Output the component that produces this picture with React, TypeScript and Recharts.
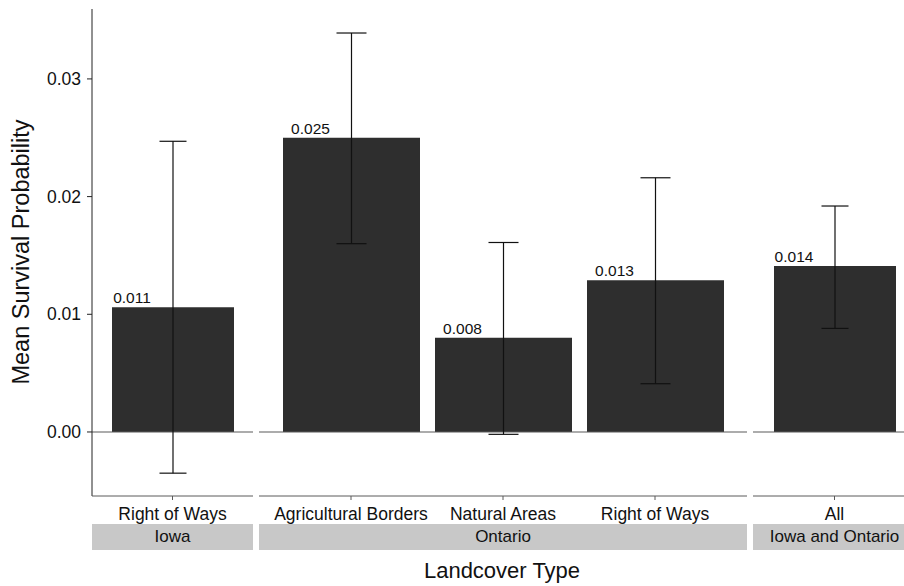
import { Bar, BarChart, ErrorBar, LabelList, ReferenceLine, XAxis, YAxis } from 'recharts';

// facet strips (bottom) and categories per facet
const facetNames = ['Iowa', 'Ontario', 'Iowa and Ontario'];

const iowaLabels = ['Right of Ways'];
const iowaMeans = [0.0106];
const iowaLower = [-0.0035];
const iowaUpper = [0.0247];

const ontarioLabels = ['Agricultural Borders', 'Natural Areas', 'Right of Ways'];
const ontarioMeans = [0.025, 0.008, 0.0129];
const ontarioLower = [0.016, -0.0002, 0.0041];
const ontarioUpper = [0.0339, 0.0161, 0.0216];

const allLabels = ['All'];
const allMeans = [0.0141];
const allLower = [0.0088];
const allUpper = [0.0192];

const yTicks = [0, 0.01, 0.02, 0.03];
const yDomain: [number, number] = [-0.00544, 0.03594];

const FONT = '"Liberation Sans", Arial, Helvetica, sans-serif';
const BAR_FILL = '#2e2e2e';
const LINE_GREY = '#5a5a5a';
const TEXT = '#111';

function buildRows(labels: string[], means: number[], lower: number[], upper: number[]) {
  return labels.map((label, i) => ({
    label,
    mean: means[i],
    err: [means[i] - lower[i], upper[i] - means[i]],
  }));
}

const panels = [
  { rows: buildRows(iowaLabels, iowaMeans, iowaLower, iowaUpper), left: 0, plotLeft: 92, width: 161, showY: true, pad: 0, barSize: 122, cap: 13.5 },
  { rows: buildRows(ontarioLabels, ontarioMeans, ontarioLower, ontarioUpper), left: 259, plotLeft: 259, width: 488, showY: false, pad: 16, barSize: 137, cap: 15 },
  { rows: buildRows(allLabels, allMeans, allLower, allUpper), left: 753, plotLeft: 753, width: 163, showY: false, pad: 0, barSize: 122, cap: 13.5 },
];

function MeanLabel(props: any) {
  const { x, y, width, value } = props;
  return (
    <text x={x + width / 2 - 41} y={y - 4} textAnchor="middle" fontSize={15.5} fill={TEXT} fontFamily={FONT}>
      {Number(value).toFixed(3)}
    </text>
  );
}

function Panel({ p }: { p: (typeof panels)[number] }) {
  const chartWidth = p.showY ? p.width + p.plotLeft : p.width;
  return (
    <div style={{ position: 'absolute', left: p.left, top: 0 }}>
      <BarChart width={chartWidth} height={586} data={p.rows} margin={{ top: 9, right: 0, bottom: 0, left: 0 }}>
        <YAxis
          hide={!p.showY}
          width={92}
          domain={yDomain}
          ticks={yTicks}
          allowDataOverflow
          tickFormatter={(v: number) => v.toFixed(2)}
          tick={{ fill: TEXT, fontSize: 17.5, fontFamily: FONT }}
          tickSize={5}
          tickMargin={6}
          stroke="#222"
        />
        <XAxis
          dataKey="label"
          height={90}
          interval={0}
          padding={{ left: p.pad, right: p.pad }}
          tick={{ fill: TEXT, fontSize: 17.5, fontFamily: FONT }}
          tickSize={4}
          tickMargin={8}
          stroke={LINE_GREY}
        />
        <ReferenceLine y={0} stroke={LINE_GREY} strokeWidth={1.2} ifOverflow="extendDomain" />
        <Bar dataKey="mean" fill={BAR_FILL} barSize={p.barSize} isAnimationActive={false}>
          <LabelList dataKey="mean" content={MeanLabel} />
          <ErrorBar dataKey="err" direction="y" width={p.cap} stroke="#111" strokeWidth={1.2} isAnimationActive={false} />
        </Bar>
      </BarChart>
      <div
        style={{
          position: 'absolute',
          left: p.showY ? p.plotLeft : 0,
          top: 524,
          width: p.width,
          height: 26,
          background: '#c8c8c8',
          color: TEXT,
          fontFamily: FONT,
          fontSize: 17,
          lineHeight: '26px',
          textAlign: 'center',
          whiteSpace: 'nowrap',
        }}
      >
        {facetNames[panels.indexOf(p)]}
      </div>
    </div>
  );
}

export default function App() {
  return (
    <div style={{ position: 'absolute', left: 0, top: 0, width: 904, height: 586, overflow: 'hidden', background: '#fff', fontFamily: FONT }}>
      {panels.map((p, i) => (
        <Panel key={i} p={p} />
      ))}
      <svg width={904} height={586} style={{ position: 'absolute', left: 0, top: 0, pointerEvents: 'none' }}>
        <text x={29} y={252} transform="rotate(-90 29 252)" textAnchor="middle" fontSize={23.5} fill={TEXT} fontFamily={FONT}>
          Mean Survival Probability
        </text>
        <text x={502} y={578} textAnchor="middle" fontSize={22} fill={TEXT} fontFamily={FONT}>
          Landcover Type
        </text>
      </svg>
    </div>
  );
}
